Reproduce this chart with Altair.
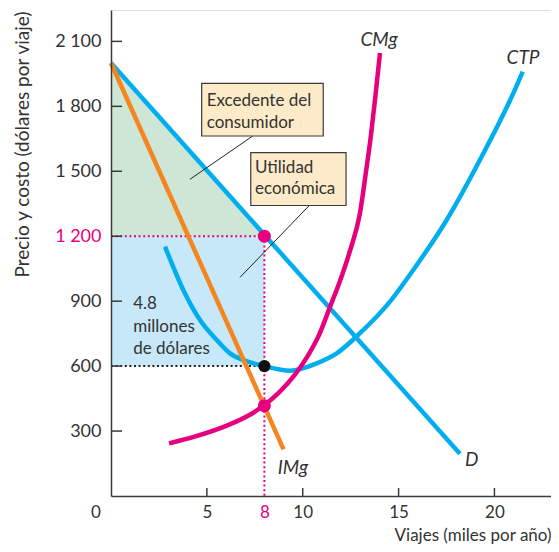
import altair as alt
import pandas as pd

# ---------------- data ----------------
D_X = [0.0, 18.2]
D_Y = [2000, 195]
IMG_X = [0.0, 9.0]
IMG_Y = [2000, 215]
CMG_X = [3.030, 4.402, 6.071, 7.218, 8.000, 8.783, 9.565, 10.264, 10.853, 11.443, 11.943,
         12.464, 12.986, 13.299, 13.560, 13.769, 13.925, 14.030]
CMG_Y = [243, 275, 326, 374, 420, 480, 557, 647, 744, 878, 993,
         1132, 1307, 1497, 1668, 1829, 1959, 2046]
CTP_X = [2.816, 3.771, 4.642, 5.513, 6.206, 6.900, 8.0, 9.336, 10.728, 11.771, 12.986,
         14.551, 15.766, 17.508, 19.240, 20.981, 21.472]
CTP_Y = [1152, 952, 813, 721, 659, 628, 600, 579, 613, 659, 752,
         898, 1044, 1275, 1552, 1860, 1960]

Q_EQ = 8
P_EQ = 1200
CTP_EQ = 600
CMG_EQ = 417
D_TOP = 2000

Y_TICKS = [300, 600, 900, 1200, 1500, 1800, 2100]
X_TICKS = [5, 8, 10, 15, 20]
X_TICK_MARKS = [5, 10, 15, 20]

BOX_CS = [4.73, 11.07, 1906, 1663]
BOX_UE = [7.29, 12.26, 1586, 1342]
LEAD_CS = [7.39, 1663, 4.12, 1463]
LEAD_UE = [10.34, 1342, 6.73, 1010]

CS_TEXT = ["Excedente del", "consumidor"]
CS_TX, CS_TY = 4.99, [1826, 1724]
UE_TEXT = ["Utilidad", "económica"]
UE_TX, UE_TY = 7.51, [1515, 1417]
PR_TEXT = ["4.8", "millones", "de dólares"]
PR_TX, PR_TY = 1.16, [885, 779, 679]

CURVE_LABELS = ["CMg", "CTP", "D", "IMg"]
CURVE_LX = [13.98, 21.49, 18.82, 9.49]
CURVE_LY = [2106, 2023, 166, 129]

# ---------------- style ----------------
MAG = "#E6007E"
CYAN = "#00AEEF"
ORANGE = "#F5861F"
GREEN_FILL = "#CDE6D5"
BLUE_FILL = "#C7E8F8"
BOX_FILL = "#FDEAC8"
TXT = "#333333"
AXC = "#3a3a3a"
FONT = "Lato"

XS = alt.Scale(domain=[0, 22.95], nice=False, zero=False)
YS = alt.Scale(domain=[0, 2245], nice=False, zero=False)

XAX = alt.Axis(
    values=X_TICKS, ticks=False, grid=False, domain=True, domainColor=AXC, domainWidth=1.5,
    labelFont=FONT, labelFontSize=17, labelPadding=8, labelFlush=False,
    labelColor={"condition": {"test": "datum.value == 8", "value": MAG}, "value": TXT},
    title="Viajes (miles por año)", titleFont=FONT, titleFontSize=17, titleFontWeight="normal",
    titleColor=TXT, titleAlign="right", titleBaseline="middle", titleX=440, titleY=39, zindex=1)

YAX = alt.Axis(
    values=Y_TICKS, ticks=False, grid=False, domain=True, domainColor=AXC, domainWidth=1.5,
    labelExpr="replace(format(datum.value, ','), ',', ' ')",
    labelFont=FONT, labelFontSize=18, labelPadding=10,
    labelColor={"condition": {"test": "datum.value == 1200", "value": MAG}, "value": TXT},
    title="Precio y costo (dólares por viaje)", titleFont=FONT, titleFontSize=19,
    titleFontWeight="normal", titleColor=TXT, titleAngle=-90, titleAlign="center",
    titleBaseline="middle", titleX=-89, titleY=134, zindex=1)


def X(f):
    return alt.X(f, type="quantitative", scale=XS, axis=XAX)


def Y(f):
    return alt.Y(f, type="quantitative", scale=YS, axis=YAX)


def curve(xs, ys, color):
    df = pd.DataFrame({"x": xs, "y": ys})
    return alt.Chart(df).mark_line(color=color, strokeWidth=4.5, interpolate="monotone",
                                   strokeCap="butt").encode(x=X("x"), y=Y("y"))


# consumer surplus triangle
cs_df = pd.DataFrame({"x": [0, Q_EQ], "y": [D_TOP, P_EQ], "y2": [P_EQ, P_EQ]})
cs = alt.Chart(cs_df).mark_area(color=GREEN_FILL, opacity=1).encode(x=X("x"), y=Y("y"), y2="y2")

# economic profit rectangle
pr_df = pd.DataFrame({"x": [0], "x2": [Q_EQ], "y": [CTP_EQ], "y2": [P_EQ]})
pr = alt.Chart(pr_df).mark_rect(color=BLUE_FILL, opacity=1).encode(x=X("x"), x2="x2", y=Y("y"), y2="y2")

# dotted guide lines
dot_df = pd.DataFrame({
    "x": [0, Q_EQ, 0], "x2": [Q_EQ, Q_EQ, Q_EQ],
    "y": [P_EQ, P_EQ, CTP_EQ], "y2": [P_EQ, 0, CTP_EQ],
    "c": [MAG, MAG, "#222222"],
})
dots_lines = alt.Chart(dot_df).mark_rule(strokeWidth=2, strokeDash=[2, 2.6]).encode(
    x=X("x"), x2="x2", y=Y("y"), y2="y2", color=alt.Color("c:N", scale=None))

# curves
c_ctp = curve(CTP_X, CTP_Y, CYAN)
c_d = curve(D_X, D_Y, CYAN)
c_img = curve(IMG_X, IMG_Y, ORANGE)
c_cmg = curve(CMG_X, CMG_Y, MAG)

# leader lines
lead_df = pd.DataFrame({"x": [LEAD_CS[0], LEAD_UE[0]], "y": [LEAD_CS[1], LEAD_UE[1]],
                        "x2": [LEAD_CS[2], LEAD_UE[2]], "y2": [LEAD_CS[3], LEAD_UE[3]]})
leads = alt.Chart(lead_df).mark_rule(color="#222222", strokeWidth=1).encode(
    x=X("x"), y=Y("y"), x2="x2", y2="y2")

# boxes
box_df = pd.DataFrame({"x": [BOX_CS[0], BOX_UE[0]], "x2": [BOX_CS[1], BOX_UE[1]],
                       "y": [BOX_CS[2], BOX_UE[2]], "y2": [BOX_CS[3], BOX_UE[3]]})
boxes = alt.Chart(box_df).mark_rect(fill=BOX_FILL, stroke="#3a3a3a", strokeWidth=1.2).encode(
    x=X("x"), x2="x2", y=Y("y"), y2="y2")

# texts
lt_df = pd.DataFrame({
    "x": [CS_TX] * 2 + [UE_TX] * 2 + [PR_TX] * 3,
    "y": CS_TY + UE_TY + PR_TY,
    "t": CS_TEXT + UE_TEXT + PR_TEXT,
})
left_texts = alt.Chart(lt_df).mark_text(align="left", baseline="middle", font=FONT, fontSize=17,
                                         color=TXT).encode(x=X("x"), y=Y("y"), text="t:N")

cl_df = pd.DataFrame({"x": CURVE_LX, "y": CURVE_LY, "t": CURVE_LABELS})
curve_texts = alt.Chart(cl_df).mark_text(align="center", baseline="middle", font=FONT, fontSize=19,
                                          fontStyle="italic", color=TXT).encode(
    x=X("x"), y=Y("y"), text="t:N")

zero_df = pd.DataFrame({"x": [0], "y": [0], "t": ["0"]})
zero_txt = alt.Chart(zero_df).mark_text(align="center", baseline="middle", font=FONT, fontSize=17,
                                         color=TXT, dx=-15, dy=17).encode(x=X("x"), y=Y("y"), text="t:N")

# points
pt_df = pd.DataFrame({"x": [Q_EQ, Q_EQ, Q_EQ], "y": [P_EQ, CMG_EQ, CTP_EQ], "c": [MAG, MAG, "#111111"],
                      "s": [170, 170, 150]})
pts = alt.Chart(pt_df).mark_circle(opacity=1).encode(
    x=X("x"), y=Y("y"), color=alt.Color("c:N", scale=None), size=alt.Size("s:Q", scale=None))

# inward tick marks
yt_df = pd.DataFrame({"y": Y_TICKS})
y_ticks = alt.Chart(yt_df).mark_rule(color=AXC, strokeWidth=1.5).encode(
    y=Y("y"), x=alt.value(0), x2=alt.value(11))

xt_df = pd.DataFrame({"x": X_TICK_MARKS})
x_ticks = alt.Chart(xt_df).mark_rule(color=AXC, strokeWidth=1.5).encode(
    x=X("x"), y=alt.value(486), y2=alt.value(478))

chart = alt.layer(
    cs, pr, dots_lines, c_ctp, c_d, c_img, c_cmg, leads, boxes, left_texts, curve_texts,
    zero_txt, pts, y_ticks, x_ticks
).properties(
    width=440, height=486,
    autosize=alt.AutoSizeParams(type="none"),
    padding={"left": 103, "top": 2, "right": 0, "bottom": 48},
).configure_view(stroke=None).configure(background="white")

chart.save("out.html", embed_options={"renderer": "svg", "actions": False})
